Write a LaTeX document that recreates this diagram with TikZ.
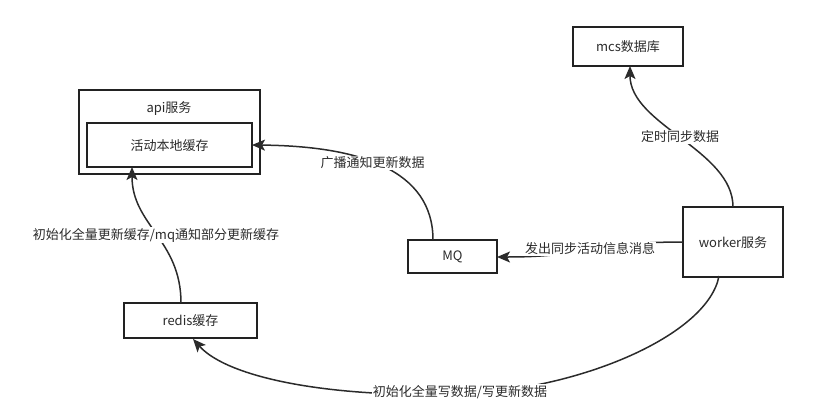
\documentclass[tikz,border=0pt]{standalone}
\usepackage{fontspec}
\setmainfont{Noto Sans CJK SC}
\usetikzlibrary{arrows.meta}
\definecolor{ink}{HTML}{2B2B2B}
\definecolor{boxline}{HTML}{222222}
\tikzset{
  box/.style={draw=boxline, line width=2pt, fill=white, minimum width=#1, inner sep=0pt},
  lbl/.style={fill=white, inner sep=1pt, text=ink, font=\fontsize{13}{15}\selectfont},
  txt/.style={text=ink, font=\fontsize{13}{15}\selectfont, inner sep=0pt},
  conn/.style={draw=ink, line width=1.5pt, -{Stealth[length=13pt,width=11pt,inset=3pt]}}
}
\begin{document}
\begin{tikzpicture}[x=1pt,y=-1pt]
\useasboundingbox (0,0) rectangle (822,413);
% boxes
\node[box=181pt, minimum height=84pt] (api) at (169,132) {};
\node[txt] (apit) at (169,109) {api服务};
\node[box=165pt, minimum height=44pt] (cache) at (169.5,145) {};
\node[txt] (cachet) at (169.5,146) {活动本地缓存};
\node[box=110pt, minimum height=39pt] (mcs) at (628,46.5) {};
\node[txt] (mcst) at (628,47) {mcs数据库};
\node[box=89pt, minimum height=33pt] (mq) at (452.5,256.5) {};
\node[txt] (mqt) at (452.5,257) {MQ};
\node[box=100pt, minimum height=70pt] (worker) at (733,242) {};
\node[txt] (workert) at (733,243) {worker服务};
\node[box=133pt, minimum height=35pt] (redis) at (190.5,320.5) {};
\node[txt] (redist) at (190.5,321) {redis缓存};
% anchor coordinates
\coordinate (mqtop) at (433,240);
\coordinate (cacheR) at (252,145);
\coordinate (wtop) at (733,207);
\coordinate (mcsB) at (630,66);
\coordinate (wleft) at (683,242);
\coordinate (mqR) at (497,257);
\coordinate (redisT) at (181,303);
\coordinate (cacheB) at (132,167);
\coordinate (wbot) at (719,276);
\coordinate (redisB) at (193,339);
\coordinate (lowmid) at (460,394);
% connectors
\draw[conn] (mqtop) .. controls (433,170) and (360,146) .. (cacheR);
\draw[conn] (wtop) .. controls (733,150) and (630,125) .. (mcsB);
\draw[conn] (wleft) .. controls (590,242) and (590,257) .. (mqR);
\draw[conn] (redisT) .. controls (181,240) and (132,225) .. (cacheB);
\draw[draw=ink, line width=1.5pt] (wbot) .. controls (708,335) and (580,390) .. (lowmid);
\draw[conn] (lowmid) .. controls (330,398) and (228,378) .. (redisB);
% labels
\node[lbl] (l1) at (372.5,163) {广播通知更新数据};
\node[lbl] (l2) at (680,137) {定时同步数据};
\node[lbl] (l3) at (590,249) {发出同步活动信息消息};
\node[lbl] (l4) at (156,235) {初始化全量更新缓存/mq通知部分更新缓存};
\node[lbl] (l5) at (460,392) {初始化全量写数据/写更新数据};
\end{tikzpicture}
\end{document}
